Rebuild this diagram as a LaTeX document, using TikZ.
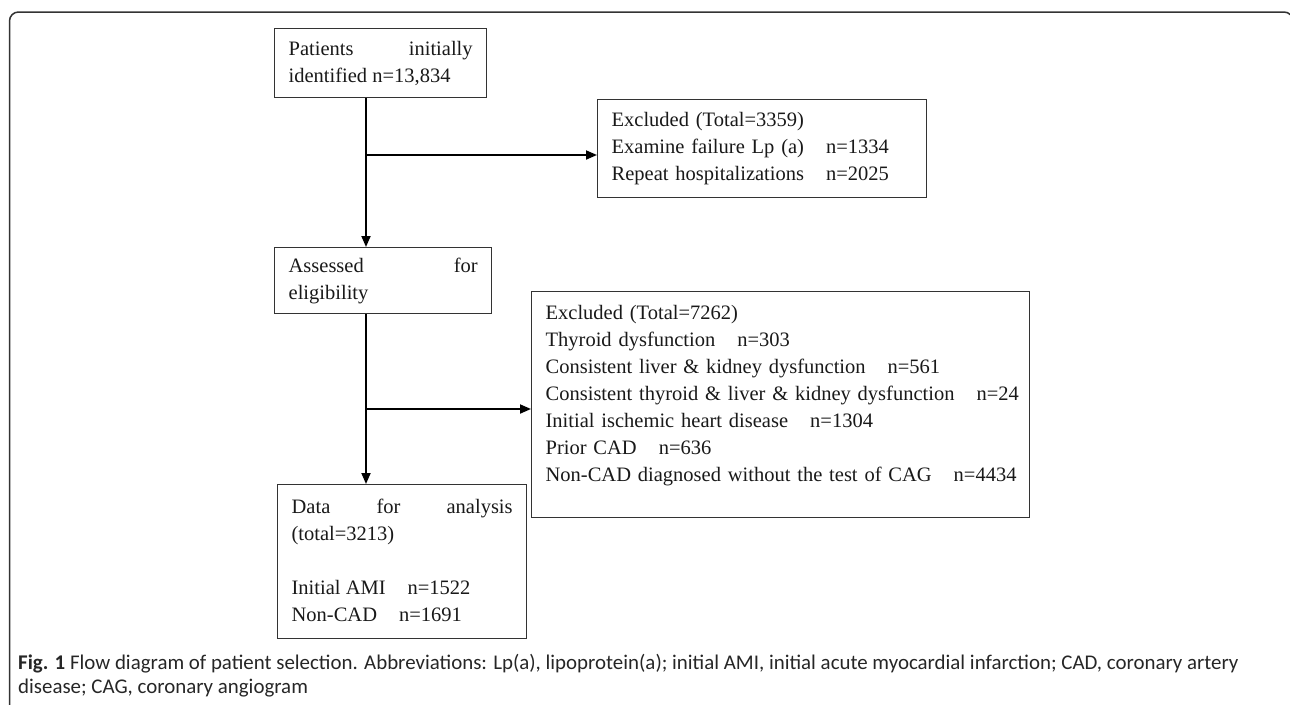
\documentclass[tikz,border=0pt]{standalone}
\usepackage{fontspec}
\setmainfont{Liberation Serif}
\newfontfamily\capfont{Carlito}
\usetikzlibrary{arrows.meta}
\tolerance=10000
\hyphenpenalty=10000
\hbadness=10000
\hfuzz=40pt
\newcommand{\ngap}{\hspace*{22pt}}
\tikzset{
	box/.style={draw=black!80, line width=1.3pt, anchor=north west, inner xsep=14pt, inner ysep=0pt, text=black!90, font=\fontsize{20.5}{27}\selectfont},
	flow/.style={line width=1.8pt, ->}
}
\begin{document}
\begin{tikzpicture}[x=1pt, y=-1pt, >={Triangle[length=11pt,width=9pt]}]
	\useasboundingbox (0,0) rectangle (1290,704);
	% frame
	\begin{scope}
		\clip (0,0) rectangle (1290,704);
		\draw[black!80, line width=1.5pt, rounded corners=9pt] (9.5,712) -- (9.5,12) -- (1293,12) -- (1293,712);
	\end{scope}
	\node[box, text width=184pt, minimum height=69pt, align=justify] (init) at (274,28) {Patients initially identified n=13,834};
	\node[box, text width=301pt, minimum height=98pt, align=left] (excl1) at (597,99) {Excluded (Total=3359)\\ Examine failure Lp (a)\ngap n=1334\\ Repeat hospitalizations\ngap n=2025};
	\node[box, text width=189pt, minimum height=66pt, align=justify] (elig) at (274,247) {Assessed for\linebreak eligibility};
	\node[box, text width=470pt, minimum height=226pt, text depth=184.5pt, align=left] (excl2) at (531,291) {Excluded (Total=7262)\\ Thyroid dysfunction\ngap n=303\\ Consistent liver \& kidney dysfunction\ngap n=561\\ \mbox{Consistent thyroid \& liver \& kidney dysfunction\ngap n=24}\\ Initial ischemic heart disease\ngap n=1304\\ Prior CAD\ngap n=636\\ \mbox{Non-CAD diagnosed without the test of CAG\ngap n=4434}};
	\node[box, text width=221pt, minimum height=154pt, text depth=110pt, align=justify] (data) at (277,484) {Data for analysis (total=3213)\\[27pt] Initial AMI\ngap n=1522\\ Non-CAD\ngap n=1691};
	\coordinate (j1) at (366,155);
	\coordinate (j2) at (366,409);
	\draw[flow] (init.south -| j1) -- (elig.north -| j1);
	\draw[flow] (j1) -- (j1 -| excl1.west);
	\draw[flow] (elig.south -| j2) -- (data.north -| j2);
	\draw[flow] (j2) -- (j2 -| excl2.west);
	\node[anchor=north west, align=left, inner sep=0pt, text=black!85, font=\capfont\fontsize{20.9}{24}\selectfont] (cap) at (18,654) {\textbf{Fig. 1} Flow diagram of patient selection. Abbreviations: Lp(a), lipoprotein(a); initial AMI, initial acute myocardial infarction; CAD, coronary artery\\ disease; CAG, coronary angiogram};
\end{tikzpicture}
\end{document}
